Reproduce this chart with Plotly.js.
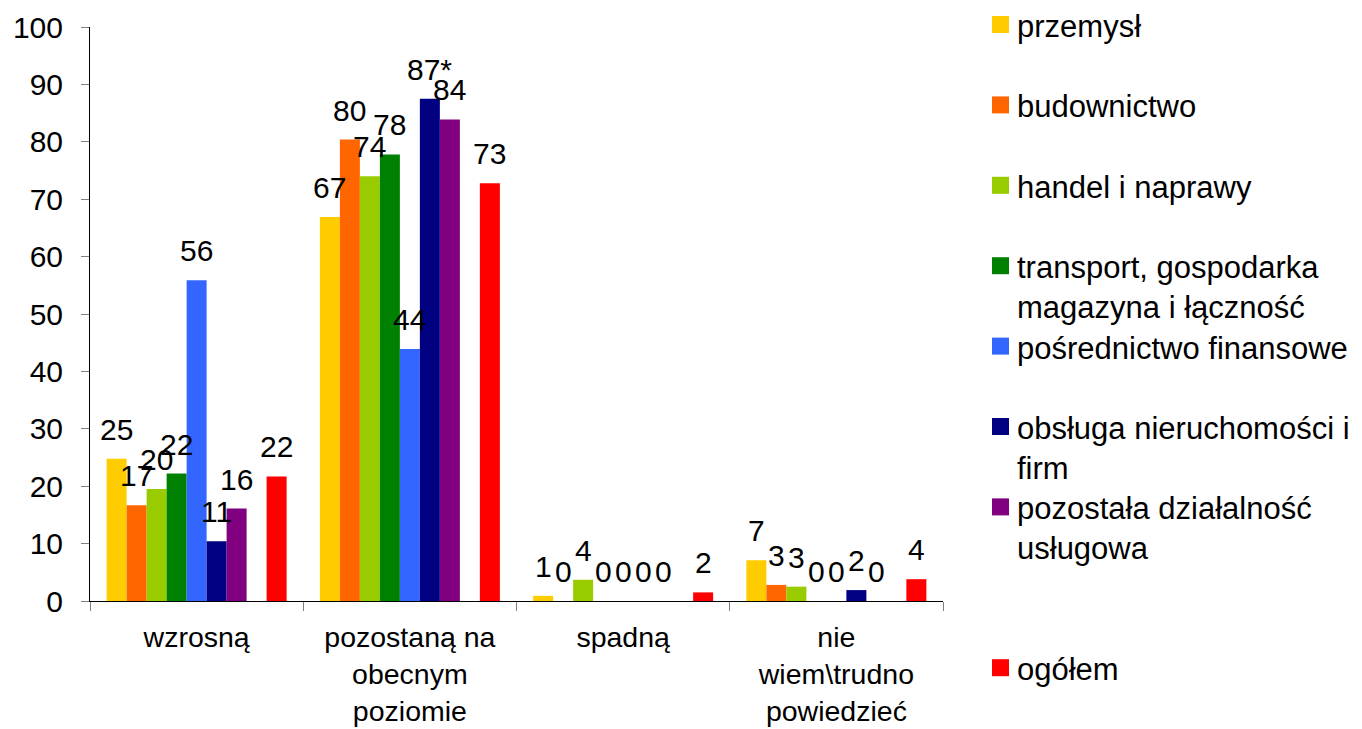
<!DOCTYPE html>
<html>
<head>
<meta charset="utf-8">
<script src="https://cdn.plot.ly/plotly-3.0.1.min.js"></script>
<style>html,body{margin:0;padding:0;background:#fff;}#chart{width:1362px;height:729px;}</style>
</head>
<body>
<div id="chart"></div>
<script>
// ---- data ----
const categories = ['wzrosną', 'pozostaną na<br>obecnym<br>poziomie', 'spadną', 'nie<br>wiem\\trudno<br>powiedzieć'];
const seriesNames = ['przemysł', 'budownictwo', 'handel i naprawy', 'transport, gospodarka<br>magazyna i łączność', 'pośrednictwo finansowe', 'obsługa nieruchomości i<br>firm', 'pozostała działalność<br>usługowa', '', 'ogółem'];
const seriesColors = ['#FFCC00', '#FF6600', '#99CC00', '#008000', '#3366FF', '#000080', '#800080', '#FFFFFF', '#FF0000'];

const przemysl      = [24.8, 66.9, 0.9, 7.1];
const budownictwo   = [16.7, 80.4, 0,   2.8];
const handel        = [19.5, 74.0, 3.7, 2.5];
const transport     = [22.2, 77.8, 0,   0];
const posrednictwo  = [55.9, 43.9, 0,   0];
const obsluga       = [10.4, 87.5, 0,   1.9];
const pozostala     = [16.1, 83.9, 0,   0];
const pusta         = [null, null, null, null];
const ogolem        = [21.7, 72.8, 1.5, 3.8];

const przemyslLabels     = ['25', '67', '1', '7'];
const budownictwoLabels  = ['17', '80', '0', '3'];
const handelLabels       = ['20', '74', '4', '3'];
const transportLabels    = ['22', '78', '0', '0'];
const posrednictwoLabels = ['56', '44', '0', '0'];
const obslugaLabels      = ['11', '87*', '0', '2'];
const pozostalaLabels    = ['16', '84', '0', '0'];
const pustaLabels        = [null, null, null, null];
const ogolemLabels       = ['22', '73', '2', '4'];

const yTickVals = [0, 10, 20, 30, 40, 50, 60, 70, 80, 90, 100];

const seriesValues = [przemysl, budownictwo, handel, transport, posrednictwo, obsluga, pozostala, pusta, ogolem];
const seriesLabels = [przemyslLabels, budownictwoLabels, handelLabels, transportLabels, posrednictwoLabels, obslugaLabels, pozostalaLabels, pustaLabels, ogolemLabels];

// ---- geometry (styles/positions only) ----
const W = 1362, H = 729;
const M = {l: 90, r: 419, t: 27, b: 128};
const plotW = W - M.l - M.r, plotH = H - M.t - M.b;
const pxX = px => (px - M.l) / plotW;
const pxY = py => (H - M.b - py) / plotH;
const FONT = 'Liberation Sans, Arial, sans-serif';
const BARGAP = 0.156;
const nS = seriesNames.length;
const barW = (1 - BARGAP) / nS;
const offsetOf = i => -(1 - BARGAP) / 2 + (i + 0.5) * barW;

const traces = seriesNames.map((name, i) => ({
  type: 'bar',
  name: name,
  x: categories,
  y: seriesValues[i],
  marker: {color: seriesColors[i], line: {width: 0}},
  showlegend: false,
  hoverinfo: 'skip'
}));

const annotations = [];
const shapes = [];

// data labels
seriesLabels.forEach((labs, i) => {
  labs.forEach((t, c) => {
    if (t === null) return;
    annotations.push({
      x: c + offsetOf(i), y: seriesValues[i][c] || 0,
      xref: 'x', yref: 'y',
      text: t, showarrow: false,
      xanchor: 'center', yanchor: 'bottom', yshift: 11,
      font: {family: FONT, size: 30, color: '#000'}
    });
  });
});

// legend (manual, one slot per series, blank slot kept)
seriesNames.forEach((name, i) => {
  if (!name) return;
  const cy = 24.5 + 80.4 * i;
  shapes.push({
    type: 'rect', xref: 'paper', yref: 'paper',
    x0: pxX(992), x1: pxX(1009), y0: pxY(cy - 8.5), y1: pxY(cy + 8.5),
    fillcolor: seriesColors[i], line: {width: 0}
  });
  annotations.push({
    xref: 'paper', yref: 'paper',
    x: pxX(1015), y: pxY(cy - 17.5),
    xanchor: 'left', yanchor: 'top', align: 'left',
    text: name, showarrow: false,
    font: {family: FONT, size: 31, color: '#000'}
  });
});

const layout = {
  width: W, height: H,
  margin: M,
  paper_bgcolor: '#fff', plot_bgcolor: '#fff',
  barmode: 'group', bargap: BARGAP, bargroupgap: 0,
  showlegend: false,
  font: {family: FONT, color: '#000'},
  xaxis: {
    type: 'category',
    tickson: 'boundaries', ticks: 'outside', ticklen: 9, tickcolor: '#808080', tickwidth: 1,
    showline: true, linecolor: '#000', linewidth: 1,
    showgrid: false, zeroline: false,
    tickfont: {family: FONT, size: 28.5, color: '#000'},
    ticklabelstandoff: 11,
    fixedrange: true
  },
  yaxis: {
    range: [0, 100], tickvals: yTickVals,
    ticks: 'outside', ticklen: 8, tickcolor: '#808080', tickwidth: 1,
    showline: true, linecolor: '#000', linewidth: 1,
    showgrid: false, zeroline: false,
    tickfont: {family: FONT, size: 30, color: '#000'},
    ticklabelstandoff: 12,
    fixedrange: true
  },
  annotations: annotations,
  shapes: shapes
};

Plotly.newPlot('chart', traces, layout, {displayModeBar: false, staticPlot: true});
</script>
</body>
</html>
